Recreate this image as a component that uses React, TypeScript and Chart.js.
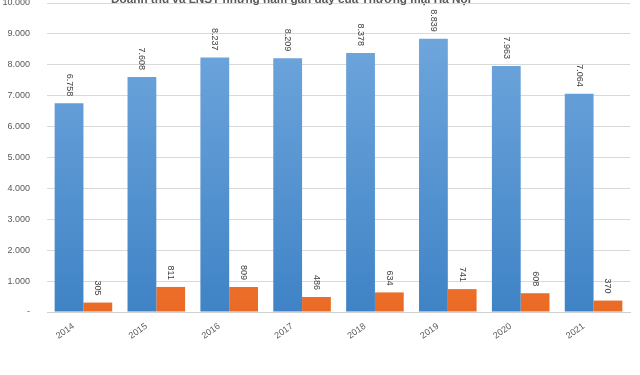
import React, { useEffect, useRef } from "react";
import { Chart, registerables } from "chart.js";

Chart.register(...registerables);

const titleText = "Doanh thu và LNST những năm gần đây của Thương mại Hà Nội";
const years = ["2014", "2015", "2016", "2017", "2018", "2019", "2020", "2021"];
const revenue = [6758, 7608, 8237, 8209, 8378, 8839, 7963, 7064];
const profit = [305, 811, 809, 486, 634, 741, 608, 370];
const seriesNames = ["Doanh thu", "LNST"];
const yMax = 10000;
const yStep = 1000;

const fmt = (v: number) => {
  if (v === 0) return "-";
  return Math.round(v).toString().replace(/\B(?=(\d{3})+(?!\d))/g, ".");
};

const FONT = '"Liberation Sans", Arial, sans-serif';

const titlePlugin = {
  id: "cutTitle",
  afterDraw(chart: any) {
    const ctx = chart.ctx;
    ctx.save();
    ctx.font = `bold 14px ${FONT}`;
    const w = ctx.measureText(titleText).width;
    const size = (14 * 360) / w;
    ctx.font = `bold ${size}px ${FONT}`;
    ctx.fillStyle = "#595959";
    ctx.textAlign = "center";
    ctx.textBaseline = "alphabetic";
    ctx.fillText(titleText, 291, 3);
    ctx.restore();
  },
};

const labelPlugin = {
  id: "vLabels",
  afterDatasetsDraw(chart: any) {
    const ctx = chart.ctx;
    ctx.save();
    ctx.font = `9px ${FONT}`;
    ctx.fillStyle = "#404040";
    chart.data.datasets.forEach((ds: any, di: number) => {
      const meta = chart.getDatasetMeta(di);
      meta.data.forEach((bar: any, i: number) => {
        const v = ds.data[i];
        ctx.save();
        ctx.translate(bar.x, bar.y - 7);
        ctx.rotate(Math.PI / 2);
        ctx.textAlign = "right";
        ctx.textBaseline = "middle";
        ctx.fillText(fmt(v), 0, 0);
        ctx.restore();
      });
    });
    ctx.restore();
  },
};

function grad(ctxArg: any, top: string, bottom: string) {
  const chart = ctxArg.chart;
  const area = chart.chartArea;
  if (!area) return top;
  const g = chart.ctx.createLinearGradient(0, area.top, 0, area.bottom);
  g.addColorStop(0, top);
  g.addColorStop(1, bottom);
  return g;
}

export default function App() {
  const ref = useRef<HTMLCanvasElement | null>(null);
  useEffect(() => {
    if (!ref.current) return;
    const chart = new Chart(ref.current, {
      type: "bar",
      data: {
        labels: years,
        datasets: [
          {
            label: seriesNames[0],
            data: revenue,
            backgroundColor: (c: any) => grad(c, "#74aadf", "#3f83c6"),
            borderWidth: 0,
            categoryPercentage: 0.79,
            barPercentage: 1,
          },
          {
            label: seriesNames[1],
            data: profit,
            backgroundColor: (c: any) => grad(c, "#f7a06a", "#ea6a24"),
            borderWidth: 0,
            categoryPercentage: 0.79,
            barPercentage: 1,
          },
        ],
      },
      options: {
        animation: false,
        responsive: false,
        maintainAspectRatio: false,
        layout: { padding: { top: 3, right: 10, left: 0, bottom: 0 } },
        plugins: {
          legend: { display: false },
          tooltip: { enabled: false },
          title: { display: false },
        },
        scales: {
          x: {
            grid: { display: false, drawTicks: false },
            border: { display: true, color: "#d0d0d0" },
            ticks: {
              color: "#595959",
              font: { size: 9, family: FONT },
              minRotation: 35,
              maxRotation: 35,
              padding: 9,
              labelOffset: -10,
            },
            afterFit: (s: any) => {
              s.height = 63;
              s.paddingTop = 0;
              s.paddingBottom = 0;
              s.paddingLeft = 0;
              s.paddingRight = 0;
            },
          },
          y: {
            min: 0,
            max: yMax,
            grid: { color: "#d9d9d9", drawTicks: false },
            border: { display: false },
            ticks: {
              stepSize: yStep,
              color: "#595959",
              font: { size: 9, family: FONT },
              padding: 17,
              callback: (v: any) => fmt(Number(v)),
            },
            afterFit: (s: any) => {
              s.width = 47;
              s.paddingTop = 0;
              s.paddingBottom = 0;
              s.paddingLeft = 0;
              s.paddingRight = 0;
            },
          },
        },
      },
      plugins: [labelPlugin, titlePlugin],
    } as any);
    return () => chart.destroy();
  }, []);
  return (
    <div style={{ position: "absolute", left: 0, top: 0, width: 640, height: 375 }}>
      <canvas ref={ref} width={640} height={375} style={{ width: 640, height: 375, display: "block" }} />
    </div>
  );
}
